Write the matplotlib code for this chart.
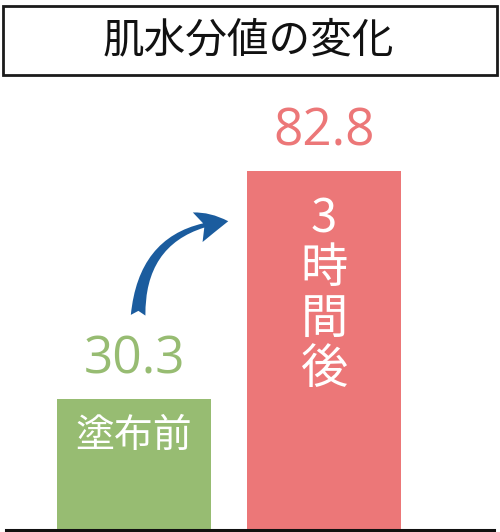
import matplotlib
matplotlib.use("Agg")
import matplotlib.pyplot as plt
from matplotlib.patches import Rectangle, FancyArrowPatch

plt.rcParams['font.family'] = ['Noto Sans CJK JP', 'DejaVu Sans']

# データ
labels = ['塗布前', '3時間後']
values = [30.3, 82.8]
value_texts = ['30.3', '82.8']
colors = ['#97bc72', '#ec7778']
title = '肌水分値の変化'

W, H = 500, 532
fig = plt.figure(figsize=(W / 100, H / 100), dpi=100)

# タイトルの枠
fig.patches.append(Rectangle((3 / W, 1 - 75 / H), 494 / W, 69 / H,
                             transform=fig.transFigure, fill=False,
                             edgecolor='#1a1a1a', linewidth=2))
fig.text(0.497, 1 - 41 / H, title, ha='center', va='center', fontsize=30, color='#111111')

# 棒グラフ
ax = fig.add_axes([6 / W, 1 - 530 / H, 488 / W, 430 / H])
x = [0, 1]
ax.bar(x, values, width=0.81, color=colors)
ax.set_xlim(-0.674, 1.894)
ax.set_ylim(0, 99.2)
for s in ['top', 'left', 'right']:
    ax.spines[s].set_visible(False)
ax.spines['bottom'].set_linewidth(2.2)
ax.spines['bottom'].set_color('#111111')
ax.set_xticks([])
ax.set_yticks([])

# 数値ラベル
for xi, v, t, c in zip(x, values, value_texts, colors):
    ax.text(xi, v + 9.0, t, ha='center', va='center', fontsize=37,
            color=c, family=['Open Sans', 'DejaVu Sans'])

# 棒の中のラベル
ax.text(0, values[0] - 8.6, labels[0], ha='center', va='center', fontsize=28, color='white')
vert = labels[1]
for i, ch in enumerate(vert):
    ax.text(1, values[1] - 11.0 - i * 11.6, ch, ha='center', va='center',
            fontsize=34, color='white')

# 矢印
arrow = FancyArrowPatch((138 / W, 1 - 318 / H), (231 / W, 1 - 221 / H),
                        transform=fig.transFigure,
                        connectionstyle='arc3,rad=-0.45',
                        arrowstyle='fancy,head_length=1.6,head_width=1.6,tail_width=0.75',
                        mutation_scale=14, color='#1b5c9e', linewidth=0)
fig.patches.append(arrow)

fig.savefig('out.png', dpi=100)
